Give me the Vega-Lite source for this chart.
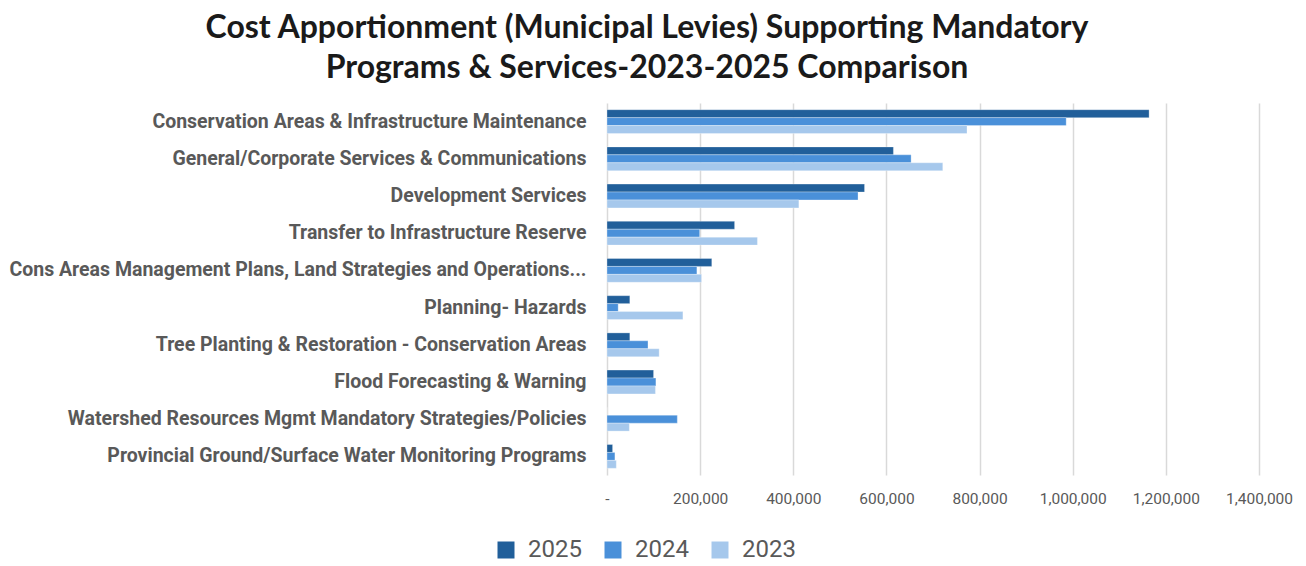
{
  "$schema": "https://vega.github.io/schema/vega-lite/v6.json",
  "autosize": {"type": "none"},
  "width": 652,
  "height": 372,
  "padding": {"left": 607, "top": 103, "right": 47, "bottom": 91},
  "background": "white",
  "title": {
    "text": ["Cost Apportionment (Municipal Levies) Supporting Mandatory", "Programs & Services-2023-2025 Comparison"],
    "font": "Lato",
    "fontSize": 32,
    "fontWeight": "bold",
    "color": "#1a1a1a",
    "anchor": "middle",
    "frame": "group",
    "dx": -286,
    "offset": 18,
    "lineHeight": 40
  },
  "data": {
    "values": [
      {"category": "Conservation Areas & Infrastructure Maintenance", "year": "2025", "value": 1164000},
      {"category": "Conservation Areas & Infrastructure Maintenance", "year": "2024", "value": 986000},
      {"category": "Conservation Areas & Infrastructure Maintenance", "year": "2023", "value": 773000},
      {"category": "General/Corporate Services & Communications", "year": "2025", "value": 615000},
      {"category": "General/Corporate Services & Communications", "year": "2024", "value": 653000},
      {"category": "General/Corporate Services & Communications", "year": "2023", "value": 721000},
      {"category": "Development Services ", "year": "2025", "value": 553000},
      {"category": "Development Services ", "year": "2024", "value": 539000},
      {"category": "Development Services ", "year": "2023", "value": 412000},
      {"category": "Transfer to Infrastructure Reserve", "year": "2025", "value": 274000},
      {"category": "Transfer to Infrastructure Reserve", "year": "2024", "value": 199000},
      {"category": "Transfer to Infrastructure Reserve", "year": "2023", "value": 323000},
      {"category": "Cons Areas Management Plans, Land Strategies and Operations...", "year": "2025", "value": 225000},
      {"category": "Cons Areas Management Plans, Land Strategies and Operations...", "year": "2024", "value": 193000},
      {"category": "Cons Areas Management Plans, Land Strategies and Operations...", "year": "2023", "value": 203000},
      {"category": "Planning- Hazards", "year": "2025", "value": 49000},
      {"category": "Planning- Hazards", "year": "2024", "value": 24000},
      {"category": "Planning- Hazards", "year": "2023", "value": 163000},
      {"category": "Tree Planting & Restoration - Conservation Areas", "year": "2025", "value": 49000},
      {"category": "Tree Planting & Restoration - Conservation Areas", "year": "2024", "value": 88000},
      {"category": "Tree Planting & Restoration - Conservation Areas", "year": "2023", "value": 112000},
      {"category": "Flood Forecasting & Warning", "year": "2025", "value": 100000},
      {"category": "Flood Forecasting & Warning", "year": "2024", "value": 105000},
      {"category": "Flood Forecasting & Warning", "year": "2023", "value": 104000},
      {"category": "Watershed Resources Mgmt Mandatory Strategies/Policies", "year": "2025", "value": 0},
      {"category": "Watershed Resources Mgmt Mandatory Strategies/Policies", "year": "2024", "value": 151000},
      {"category": "Watershed Resources Mgmt Mandatory Strategies/Policies", "year": "2023", "value": 48000},
      {"category": "Provincial Ground/Surface Water Monitoring Programs", "year": "2025", "value": 12000},
      {"category": "Provincial Ground/Surface Water Monitoring Programs", "year": "2024", "value": 17000},
      {"category": "Provincial Ground/Surface Water Monitoring Programs", "year": "2023", "value": 20000}
    ]
  },
  "mark": {"type": "bar", "stroke": "white", "strokeWidth": 0.5, "strokeOpacity": 0.6},
  "encoding": {
    "y": {
      "field": "category",
      "type": "nominal",
      "sort": null,
      "title": null,
      "scale": {"paddingInner": 0.36, "paddingOuter": 0.18},
      "axis": {
        "domain": false,
        "ticks": false,
        "labelFont": "Roboto",
        "labelFontSize": 19.5,
        "labelFontWeight": "bold",
        "labelColor": "#595959",
        "labelPadding": 21,
        "labelLimit": 700
      }
    },
    "yOffset": {
      "field": "year",
      "type": "nominal",
      "sort": ["2025", "2024", "2023"],
      "scale": {"paddingInner": 0, "paddingOuter": 0}
    },
    "x": {
      "field": "value",
      "type": "quantitative",
      "title": null,
      "scale": {"domain": [0, 1400000], "nice": false},
      "axis": {
        "values": [0, 200000, 400000, 600000, 800000, 1000000, 1200000, 1400000],
        "labelExpr": "datum.value == 0 ? '-' : format(datum.value, ',')",
        "labelOverlap": false,
        "labelBound": false,
        "labelFlush": false,
        "domain": false,
        "ticks": false,
        "grid": true,
        "gridColor": "#d9d9d9",
        "gridWidth": 1.5,
        "labelFont": "Roboto",
        "labelFontSize": 15.5,
        "labelColor": "#595959",
        "labelPadding": 16
      }
    },
    "color": {
      "field": "year",
      "type": "nominal",
      "sort": ["2025", "2024", "2023"],
      "scale": {"domain": ["2025", "2024", "2023"], "range": ["#215F9A", "#4A90D9", "#A6C8EC"]},
      "legend": {
        "title": null,
        "orient": "none",
        "direction": "horizontal",
        "legendX": -113,
        "legendY": 435,
        "symbolType": "square",
        "symbolSize": 289,
        "symbolStrokeWidth": 0,
        "labelFont": "Roboto",
        "labelFontSize": 24,
        "labelColor": "#595959",
        "labelOffset": 10,
        "columnPadding": 19
      }
    }
  },
  "config": {
    "view": {"stroke": null}
  }
}
